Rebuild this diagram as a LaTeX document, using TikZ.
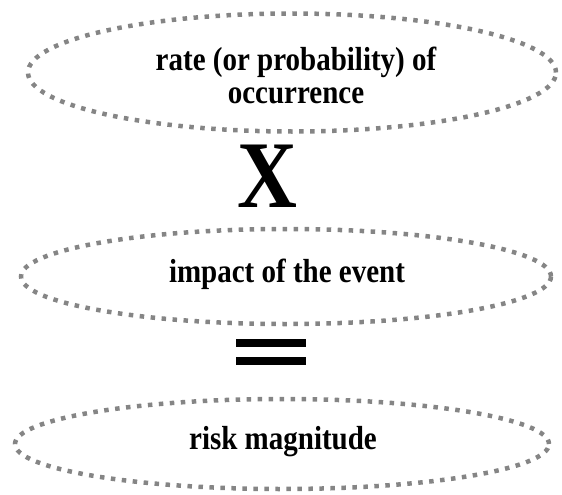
\documentclass[tikz,border=0pt]{standalone}
\usepackage{fontspec}
\setmainfont{Liberation Serif}
\usetikzlibrary{shapes.geometric}
\definecolor{dotgray}{HTML}{858585}
\tikzset{
  dotell/.style={ellipse, draw=dotgray, line width=4.5pt, dash pattern=on 4.5pt off 6.5pt, inner sep=0pt},
  lbl/.style={font=\bfseries\fontsize{29}{28.5}\selectfont, align=center, inner sep=0pt},
  eqbar/.style={fill=black, draw=none}
}
\newcommand{\vs}[1]{\scalebox{1}[1.15]{#1}}
\begin{document}
\begin{tikzpicture}[x=1pt,y=-1pt]
\useasboundingbox (0,0) rectangle (562,495);
% ellipses
\node[dotell, minimum width=528pt, minimum height=118pt] (e1) at (292,72.5) {};
\node[dotell, minimum width=530pt, minimum height=95pt] (e2) at (286,276.5) {};
\node[dotell, minimum width=534pt, minimum height=90pt] (e3) at (282,444) {};
% labels
\node[lbl] (t1) at (296,80) {\vs{\begin{tabular}{@{}c@{}}rate (or probability) of\\occurrence\end{tabular}}};
\node[lbl] (t2) at (287,274) {\vs{impact of the event}};
\node[lbl] (t3) at (283,442) {\vs{risk magnitude}};
% times sign
\node[font=\bfseries\fontsize{83}{83}\selectfont, inner sep=0pt] (x) at (267,176) {\vs{X}};
% equals sign
\fill[eqbar] (236,339) rectangle (306,347);
\fill[eqbar] (236,357) rectangle (306,365);
\end{tikzpicture}
\end{document}
